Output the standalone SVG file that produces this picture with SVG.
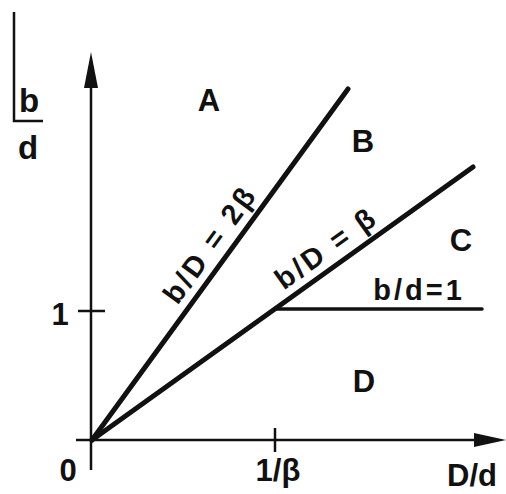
<svg xmlns="http://www.w3.org/2000/svg" width="506" height="494" viewBox="0 0 506 494">
<style>
text{font-family:"Liberation Sans",Arial,sans-serif;font-weight:bold;font-size:31px;fill:#111}
.ax{stroke:#111;stroke-width:2.5;fill:none}
.ln{stroke:#111;stroke-width:5;fill:none;stroke-linecap:round}
.thin{stroke:#111;stroke-width:3.5;fill:none;stroke-linecap:round}
.lbl{font-size:29px;letter-spacing:3px}
</style>
<rect width="506" height="494" fill="#fff"/>
<g id="axes">
<line class="ax" x1="91" y1="470" x2="91" y2="80"/>
<polygon points="91,52 84,88 98,88" fill="#111"/>
<line class="ax" x1="76" y1="440" x2="480" y2="440"/>
<polygon points="506,440 474,433 474,447" fill="#111"/>
<line class="ax" x1="275" y1="428" x2="275" y2="452"/>
<line class="ax" x1="78" y1="311" x2="105" y2="311"/>
<text x="68" y="481" text-anchor="middle">0</text>
<text x="60" y="325" text-anchor="middle">1</text>
<text x="278" y="481" text-anchor="middle">1/β</text>
<text x="497" y="486" text-anchor="end">D/d</text>
<path class="ax" d="M14,12 V121 H43"/>
<text x="29" y="112" text-anchor="middle" style="font-size:33px">b</text>
<text x="28" y="159" text-anchor="middle" style="font-size:33px">d</text>
</g>
<g id="connectors">
<line class="ln" x1="92" y1="440" x2="348" y2="89"/>
<line class="ln" x1="92" y1="440" x2="473" y2="167"/>
<line class="thin" x1="275" y1="309" x2="482" y2="309"/>
</g>
<g id="label-2beta"><text class="lbl" transform="translate(218,250) rotate(-54)" text-anchor="middle">b/D = 2β</text></g>
<g id="label-beta"><text class="lbl" transform="translate(332,256) rotate(-35.6)" text-anchor="middle">b/D = β</text></g>
<g id="label-bd1"><text class="lbl" x="419" y="300" text-anchor="middle">b/d=1</text></g>
<g id="region-A"><text x="209" y="111" text-anchor="middle">A</text></g>
<g id="region-B"><text x="363" y="152" text-anchor="middle">B</text></g>
<g id="region-C"><text x="461" y="251" text-anchor="middle">C</text></g>
<g id="region-D"><text x="364" y="392" text-anchor="middle">D</text></g>
</svg>
